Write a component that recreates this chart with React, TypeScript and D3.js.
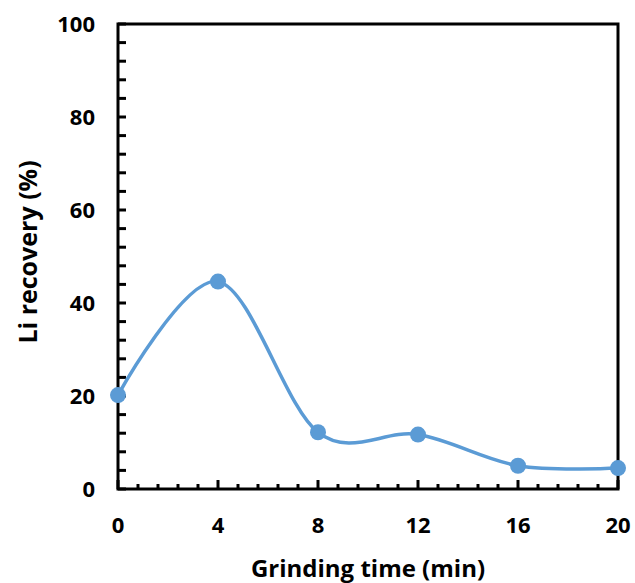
import { useEffect, useRef } from "react"
import * as d3 from "d3"

const grindingTime = [0, 4, 8, 12, 16, 20]
const liRecovery = [20.2, 44.6, 12.2, 11.7, 5.0, 4.5]
const xTicks = [0, 4, 8, 12, 16, 20]
const yTicks = [0, 20, 40, 60, 80, 100]

export default function App() {
  const svgRef = useRef<SVGSVGElement>(null)

  useEffect(() => {
    if (!svgRef.current) return
    const svg = d3.select(svgRef.current)
    svg.selectAll("*").remove()

    const margin = { top: 24, right: 17, bottom: 94, left: 118 }
    const width = 635
    const height = 583
    const innerWidth = width - margin.left - margin.right
    const innerHeight = height - margin.top - margin.bottom
    const font = "'Open Sans', Lato, sans-serif"
    const color = "#5b9bd5"

    const x = d3.scaleLinear().domain([0, 20]).range([0, innerWidth])
    const y = d3.scaleLinear().domain([0, 100]).range([innerHeight, 0])

    const g = svg.append("g").attr("transform", `translate(${margin.left},${margin.top})`)

    // Minor ticks (inside)
    const xMinor = d3.range(0, 20.001, 0.8)
    g.selectAll(".xminor")
      .data(xMinor)
      .enter()
      .append("line")
      .attr("x1", (d) => x(d))
      .attr("x2", (d) => x(d))
      .attr("y1", innerHeight)
      .attr("y2", (d) => (Math.abs(d % 4) < 0.01 || Math.abs((d % 4) - 4) < 0.01 ? innerHeight - 9 : innerHeight - 5))
      .attr("stroke", "black")
      .attr("stroke-width", 3)

    const yMinor = d3.range(0, 100.001, 4)
    g.selectAll(".yminor")
      .data(yMinor)
      .enter()
      .append("line")
      .attr("x1", 0)
      .attr("x2", 8)
      .attr("y1", (d) => y(d))
      .attr("y2", (d) => y(d))
      .attr("stroke", "black")
      .attr("stroke-width", 3)

    // Frame
    g.append("rect")
      .attr("width", innerWidth)
      .attr("height", innerHeight)
      .attr("fill", "none")
      .attr("stroke", "black")
      .attr("stroke-width", 3)

    // Tick labels
    g.selectAll(".xlabel")
      .data(xTicks)
      .enter()
      .append("text")
      .attr("x", (d) => x(d))
      .attr("y", innerHeight + 44)
      .attr("text-anchor", "middle")
      .attr("font-family", font)
      .attr("font-weight", "bold")
      .attr("font-size", "22px")
      .text((d) => d)

    g.selectAll(".ylabel")
      .data(yTicks)
      .enter()
      .append("text")
      .attr("x", -23)
      .attr("y", (d) => y(d))
      .attr("dy", "0.35em")
      .attr("text-anchor", "end")
      .attr("font-family", font)
      .attr("font-weight", "bold")
      .attr("font-size", "22px")
      .text((d) => d)

    // Line
    const data = grindingTime.map((t, i) => ({ t, v: liRecovery[i] }))
    const line = d3
      .line<{ t: number; v: number }>()
      .x((d) => x(d.t))
      .y((d) => y(d.v))
      .curve(d3.curveCardinal.tension(0))

    g.append("path").datum(data).attr("fill", "none").attr("stroke", color).attr("stroke-width", 3.5).attr("d", line)

    g.selectAll(".dot")
      .data(data)
      .enter()
      .append("circle")
      .attr("cx", (d) => x(d.t))
      .attr("cy", (d) => y(d.v))
      .attr("r", 8)
      .attr("fill", color)

    // Axis titles
    svg.append("text")
      .attr("x", margin.left + innerWidth / 2)
      .attr("y", 577)
      .attr("text-anchor", "middle")
      .attr("font-family", font)
      .attr("font-weight", "bold")
      .attr("font-size", "24px")
      .text("Grinding time (min)")

    svg.append("text")
      .attr("transform", `translate(37,252) rotate(-90)`)
      .attr("text-anchor", "middle")
      .attr("font-family", font)
      .attr("font-weight", "bold")
      .attr("font-size", "25px")
      .text("Li recovery (%)")
  }, [])

  return (
    <svg
      ref={svgRef}
      width={635}
      height={583}
      style={{ position: "absolute", left: 0, top: 0, background: "white" }}
    />
  )
}
